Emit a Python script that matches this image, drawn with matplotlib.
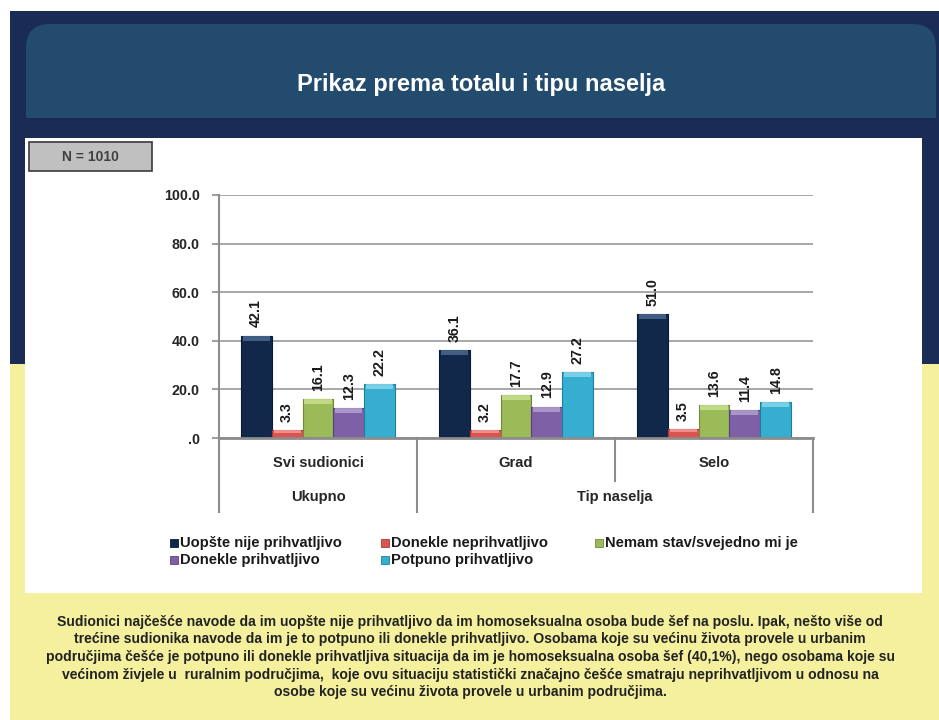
import matplotlib
matplotlib.use("Agg")
import matplotlib.pyplot as plt
import matplotlib.transforms as mtransforms
from matplotlib.patches import Rectangle, FancyBboxPatch
import numpy as np

plt.rcParams['font.family'] = ['Liberation Sans', 'DejaVu Sans']
plt.rcParams['font.weight'] = 'bold'

# data
groups = ['Svi sudionici', 'Grad', 'Selo']
series = ['Uopšte nije prihvatljivo', 'Donekle neprihvatljivo',
          'Nemam stav/svejedno mi je', 'Donekle prihvatljivo',
          'Potpuno prihvatljivo']
values = [
    [42.1, 36.1, 51.0],
    [3.3, 3.2, 3.5],
    [16.1, 17.7, 13.6],
    [12.3, 12.9, 11.4],
    [22.2, 27.2, 14.8],
]
yticks = [0, 20, 40, 60, 80, 100]
ytick_labels = ['.0', '20.0', '40.0', '60.0', '80.0', '100.0']
top_labels = ['Ukupno', 'Tip naselja']
title = 'Prikaz prema totalu i tipu naselja'
note = 'N = 1010'
caption = ("Sudionici najčešće navode da im uopšte nije prihvatljivo da im homoseksualna osoba bude šef na poslu. Ipak, nešto više od\n"
           "trećine sudionika navode da im je to potpuno ili donekle prihvatljivo. Osobama koje su većinu života provele u urbanim\n"
           "područjima češće je potpuno ili donekle prihvatljiva situacija da im je homoseksualna osoba šef (40,1%), nego osobama koje su\n"
           "većinom živjele u  ruralnim područjima,  koje ovu situaciju statistički značajno češće smatraju neprihvatljivom u odnosu na\n"
           "osobe koje su većinu života provele u urbanim područjima.")

colors = ['#12284a', '#dc5450', '#9bbb59', '#7e60a6', '#35aed0']
tops = ['#4a6890', '#f29a98', '#c9e08f', '#b39fd0', '#86d6ec']
edges = ['#0a1a33', '#a83a37', '#6f8a3a', '#5a4080', '#1f7f9c']

W, H = 939, 720
fig = plt.figure(figsize=(W / 100, H / 100), dpi=100)
fig.patch.set_facecolor('white')
tr = fig.dpi_scale_trans


def box(x0, y0, x1, y1, **kw):
    # pixel coords, y from top
    r = Rectangle((x0 / 100, (H - y1) / 100), (x1 - x0) / 100, (y1 - y0) / 100,
                  transform=tr, **kw)
    fig.patches.append(r)
    return r


# background panels
box(10, 11, 939, 364, facecolor='#1a2b56', edgecolor='none', zorder=0)
box(10, 364, 939, 720, facecolor='#f4f09e', edgecolor='none', zorder=0)
rad = 24
fig.patches.append(FancyBboxPatch(((26 + rad) / 100, (H - 118 + rad) / 100),
                                  (936 - 26 - 2 * rad) / 100, (118 - 24 - 2 * rad) / 100,
                                  boxstyle='round,pad=%f' % (rad / 100), transform=tr,
                                  facecolor='#224b6e', edgecolor='none', zorder=1))
box(26, 70, 936, 118, facecolor='#224b6e', edgecolor='none', zorder=1)
box(25, 138, 922, 593, facecolor='white', edgecolor='none', zorder=1)
box(29, 142, 152, 171, facecolor='#c0c0c0', edgecolor='#3a3a3a', linewidth=1.2, zorder=2)

fig.text(481 / W, 1 - 84 / H, title, color='white', fontsize=17, fontweight='bold',
         ha='center', va='center')
fig.text(90 / W, 1 - 157 / H, note, color='#404040', fontsize=10, fontweight='bold',
         ha='center', va='center')
fig.text(470 / W, 1 - 657 / H, caption, color='#222222', fontsize=10.1, fontweight='bold',
         ha='center', va='center', linespacing=1.33, multialignment='center')

# chart
ax = fig.add_axes([219 / W, (H - 438) / H, (813 - 219) / W, (438 - 195) / H])
ax.set_facecolor('none')
ax.set_zorder(3)
ax.set_xlim(-0.5, len(groups) - 0.5)
ax.set_ylim(0, 100)
for s in ['top', 'right']:
    ax.spines[s].set_visible(False)
ax.spines['left'].set_color('#8c8c8c')
ax.spines['left'].set_linewidth(1.5)
ax.spines['bottom'].set_color('#8c8c8c')
ax.spines['bottom'].set_linewidth(2)
ax.set_yticks(yticks)
ax.set_yticklabels(ytick_labels)
ax.tick_params(axis='y', length=5, width=1.2, color='#8c8c8c', labelsize=10.3,
               labelcolor='#262626', pad=9)
ax.set_xticks([])
ax.yaxis.grid(True, color='#a0a0a0', linewidth=1.3)
ax.set_axisbelow(True)

x = np.arange(len(groups))
bw = 0.156
for i, vals in enumerate(values):
    xi = x + (i - 2) * bw
    ax.bar(xi, vals, bw, color=colors[i], edgecolor=edges[i], linewidth=0.8, zorder=2)
    strip = [min(2.0, v * 0.35) for v in vals]
    ax.bar(xi, strip, bw * 0.88, bottom=[v - s for v, s in zip(vals, strip)],
           color=tops[i], edgecolor='none', zorder=3, alpha=0.85)
    for xx, v in zip(xi, vals):
        ax.annotate('%.1f' % v, (xx, v), xytext=(0, 6), textcoords='offset points',
                    rotation=90, ha='center', va='bottom', fontsize=10.3,
                    fontweight='bold', color='#1a1a1a')

# category axis (two levels)
bt = mtransforms.blended_transform_factory(ax.transData, ax.transAxes)
for xx, g in zip(x, groups):
    ax.text(xx, -0.103, g, transform=bt, ha='center', va='center', fontsize=10.6,
            fontweight='bold', color='#262626')
ax.text(0, -0.243, top_labels[0], transform=bt, ha='center', va='center', fontsize=10.6,
        fontweight='bold', color='#262626')
ax.text(1.5, -0.243, top_labels[1], transform=bt, ha='center', va='center', fontsize=10.6,
        fontweight='bold', color='#262626')
for sx, y1 in [(-0.5, -0.305), (0.5, -0.305), (1.5, -0.177), (2.5, -0.305)]:
    ax.plot([sx, sx], [0, y1], transform=bt, color='#8c8c8c', linewidth=1.5, clip_on=False)

# legend
leg_pos = [(170, 543), (381, 543), (595, 543), (170, 560), (381, 560)]
for i, name in enumerate(series):
    lx, ly = leg_pos[i]
    box(lx, ly - 4, lx + 8, ly + 4, facecolor=colors[i], edgecolor=edges[i],
        linewidth=0.6, zorder=4)
    fig.text((lx + 10) / W, 1 - ly / H, name, fontsize=10.6, fontweight='bold',
             color='#1a1a1a', ha='left', va='center')

fig.savefig('out.png', dpi=100)
